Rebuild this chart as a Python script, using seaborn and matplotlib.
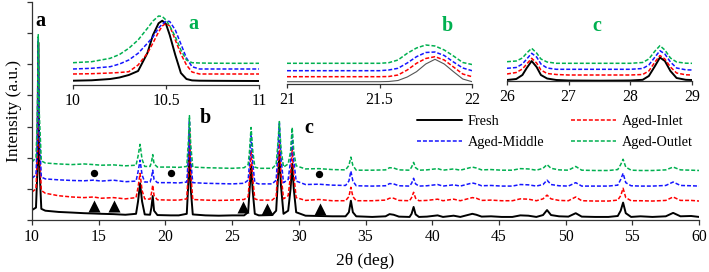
import matplotlib
matplotlib.use("Agg")
import matplotlib.pyplot as plt
import seaborn as sns

# main XRD patterns (2theta in deg, intensity in a.u., already stacked)
two_theta = [10.0, 10.3, 10.4, 10.47, 10.55, 10.7, 11.0, 12.0, 13.0, 13.9,
             14.6, 15.2, 16.1, 17.0, 17.8, 17.95, 18.1, 18.25, 18.45, 18.85,
             18.95, 19.05, 19.15, 19.4, 20.4, 21.0, 21.6, 21.72, 21.8, 21.9,
             22.05, 23.0, 24.0, 25.0, 25.9, 26.2, 26.3, 26.42, 26.55, 26.7,
             27.0, 28.0, 28.3, 28.42, 28.54, 28.66, 28.85, 29.2, 29.38, 29.5,
             29.62, 29.8, 30.5, 31.5, 32.5, 33.5, 33.75, 33.9, 34.05, 34.3,
             35.5, 36.5, 36.8, 37.1, 37.5, 38.3, 38.45, 38.6, 38.75, 39.0,
             39.6, 40.4, 40.8, 41.6, 42.1, 43.0, 43.3, 43.7, 44.4, 45.2,
             46.0, 46.6, 47.2, 47.8, 48.3, 48.6, 48.9, 49.5, 50.2, 50.75,
             51.2, 52.2, 53.2, 53.9, 54.12, 54.3, 54.5, 54.9, 55.6, 56.5,
             57.5, 58.05, 58.6, 59.4, 60.0]
fresh = [0.32, 0.40, 1.50, 5.70, 1.80, 0.36, 0.30, 0.26, 0.24, 0.22,
         0.21, 0.20, 0.19, 0.17, 0.20, 0.60, 1.18, 0.60, 0.18, 0.17,
         0.40, 0.77, 0.30, 0.16, 0.15, 0.15, 0.20, 1.20, 2.40, 1.00,
         0.18, 0.15, 0.14, 0.15, 0.15, 0.25, 0.90, 1.75, 0.90, 0.20,
         0.15, 0.16, 0.30, 1.20, 2.10, 1.10, 0.20, 0.30, 1.00, 1.80,
         1.00, 0.25, 0.14, 0.13, 0.12, 0.12, 0.25, 0.62, 0.25, 0.12,
         0.10, 0.12, 0.19, 0.17, 0.11, 0.10, 0.20, 0.42, 0.18, 0.10,
         0.11, 0.15, 0.10, 0.14, 0.10, 0.20, 0.17, 0.11, 0.12, 0.10,
         0.10, 0.15, 0.14, 0.10, 0.16, 0.32, 0.16, 0.12, 0.11, 0.22,
         0.11, 0.10, 0.10, 0.13, 0.30, 0.56, 0.22, 0.10, 0.12, 0.10,
         0.12, 0.23, 0.12, 0.13, 0.10]
aged_inlet = [0.90, 1.00, 2.00, 5.75, 2.40, 0.95, 0.86, 0.78, 0.74, 0.72,
              0.74, 0.70, 0.72, 0.68, 0.72, 1.05, 1.50, 0.95, 0.68, 0.67,
              0.85, 1.12, 0.78, 0.65, 0.64, 0.64, 0.68, 1.60, 2.90, 1.50,
              0.66, 0.64, 0.63, 0.64, 0.66, 0.75, 1.30, 2.24, 1.30, 0.68,
              0.64, 0.64, 0.75, 1.60, 2.55, 1.50, 0.68, 0.78, 1.45, 2.30,
              1.45, 0.72, 0.63, 0.66, 0.62, 0.62, 0.75, 1.05, 0.75, 0.62,
              0.62, 0.64, 0.70, 0.70, 0.63, 0.62, 0.72, 0.89, 0.70, 0.62,
              0.63, 0.67, 0.62, 0.67, 0.62, 0.72, 0.70, 0.63, 0.64, 0.62,
              0.62, 0.68, 0.67, 0.62, 0.68, 0.80, 0.68, 0.63, 0.62, 0.74,
              0.62, 0.61, 0.61, 0.64, 0.78, 1.02, 0.72, 0.62, 0.62, 0.61,
              0.63, 0.74, 0.63, 0.63, 0.61]
aged_middle = [1.34, 1.45, 2.50, 5.80, 2.80, 1.38, 1.32, 1.29, 1.27, 1.26,
               1.28, 1.25, 1.28, 1.23, 1.25, 1.55, 1.92, 1.45, 1.22, 1.22,
               1.35, 1.60, 1.30, 1.20, 1.20, 1.19, 1.22, 2.00, 3.20, 1.90,
               1.20, 1.18, 1.17, 1.16, 1.18, 1.28, 1.80, 2.78, 1.80, 1.20,
               1.16, 1.16, 1.28, 2.10, 3.10, 2.00, 1.20, 1.30, 1.90, 2.78,
               1.90, 1.25, 1.14, 1.15, 1.12, 1.11, 1.25, 1.57, 1.25, 1.10,
               1.09, 1.10, 1.17, 1.16, 1.10, 1.09, 1.18, 1.34, 1.16, 1.09,
               1.10, 1.14, 1.09, 1.13, 1.09, 1.19, 1.16, 1.10, 1.11, 1.09,
               1.09, 1.14, 1.13, 1.09, 1.14, 1.28, 1.14, 1.10, 1.09, 1.20,
               1.09, 1.09, 1.09, 1.12, 1.30, 1.50, 1.20, 1.10, 1.09, 1.09,
               1.11, 1.22, 1.11, 1.10, 1.09]
aged_outlet = [1.86, 2.00, 3.20, 5.95, 3.40, 1.90, 1.83, 1.80, 1.78, 1.80,
               1.78, 1.76, 1.77, 1.74, 1.76, 2.05, 2.43, 1.95, 1.72, 1.72,
               1.85, 2.10, 1.80, 1.70, 1.70, 1.69, 1.72, 2.50, 3.35, 2.40,
               1.70, 1.68, 1.67, 1.66, 1.68, 1.78, 2.20, 2.97, 2.20, 1.70,
               1.66, 1.66, 1.78, 2.40, 3.16, 2.30, 1.70, 1.80, 2.20, 2.97,
               2.20, 1.74, 1.64, 1.65, 1.62, 1.61, 1.75, 2.02, 1.75, 1.60,
               1.60, 1.61, 1.68, 1.67, 1.61, 1.60, 1.70, 1.85, 1.68, 1.60,
               1.61, 1.65, 1.60, 1.64, 1.60, 1.70, 1.67, 1.61, 1.62, 1.60,
               1.60, 1.65, 1.64, 1.60, 1.66, 1.78, 1.66, 1.61, 1.60, 1.72,
               1.60, 1.59, 1.59, 1.62, 1.78, 1.95, 1.70, 1.60, 1.59, 1.59,
               1.61, 1.70, 1.61, 1.60, 1.59]

# phase markers
circle_x = [14.67, 20.43, 31.5]
circle_y = [1.52, 1.52, 1.47]
triangle_x = [14.67, 16.16, 25.85, 27.65, 31.55]
triangle_y = [0.45, 0.45, 0.41, 0.37, 0.37]

# inset a (peak near 10.5)
ins_a_x = [10.0, 10.1, 10.2, 10.25, 10.3, 10.35, 10.4, 10.43, 10.46, 10.48,
           10.5, 10.52, 10.55, 10.58, 10.61, 10.64, 10.68, 10.75, 10.85, 11.0]
ins_a_fresh = [4.3, 4.7, 6.0, 7.5, 10.0, 14.0, 32.0, 50.0, 61.7, 64.3,
               61.0, 50.0, 30.0, 12.0, 6.0, 4.6, 4.3, 4.2, 4.1, 4.0]
ins_a_inlet = [11.0, 11.3, 12.0, 12.5, 13.3, 20.0, 31.7, 42.0, 53.0, 59.0,
               61.7, 59.0, 45.0, 31.0, 20.0, 13.0, 11.0, 11.0, 11.0, 11.0]
ins_a_middle = [16.0, 16.7, 18.3, 21.0, 25.0, 31.7, 41.7, 48.0, 57.0, 61.0,
                64.0, 63.5, 55.0, 41.0, 27.0, 18.3, 16.0, 16.0, 16.0, 16.0]
ins_a_outlet = [22.3, 23.3, 26.7, 30.5, 36.7, 45.0, 56.7, 64.0, 69.0, 68.5,
                65.0, 59.0, 48.3, 35.0, 25.0, 22.3, 22.0, 21.8, 21.7, 21.7]

# inset b (peak near 21.8)
ins_b_x = [21.0, 21.2, 21.4, 21.5, 21.55, 21.6, 21.65, 21.7, 21.75, 21.8,
           21.85, 21.9, 21.95, 22.0]
ins_b_fresh = [2.3, 2.3, 2.3, 2.3, 2.5, 3.5, 7.0, 12.3, 20.0, 24.7,
               20.0, 12.3, 5.0, 2.3]
ins_b_inlet = [7.3, 7.3, 7.3, 7.3, 7.5, 9.0, 14.0, 20.7, 25.5, 27.3,
               24.0, 17.0, 10.0, 7.3]
ins_b_middle = [13.3, 13.3, 13.3, 13.3, 14.0, 15.7, 21.0, 27.3, 31.5, 32.0,
                28.5, 22.0, 16.0, 13.3]
ins_b_outlet = [20.7, 20.7, 20.7, 20.7, 21.3, 24.0, 30.7, 36.0, 39.0, 38.0,
                34.0, 28.0, 21.5, 19.5]

# inset c (peaks near 26.4 and 28.5)
ins_c_x = [26.0, 26.15, 26.25, 26.32, 26.4, 26.48, 26.55, 26.65, 26.8, 27.0,
           27.5, 28.0, 28.2, 28.3, 28.4, 28.48, 28.56, 28.65, 28.75, 28.9, 29.0]
ins_c_fresh = [1.0, 2.0, 6.0, 13.0, 20.0, 14.0, 6.0, 2.5, 1.0, 0.5,
               0.3, 0.5, 1.2, 5.0, 15.0, 23.5, 20.0, 10.0, 3.0, 1.2, 1.0]
ins_c_inlet = [7.0, 8.5, 12.0, 17.0, 22.7, 18.0, 11.0, 7.5, 6.5, 6.0,
               6.0, 6.0, 6.5, 10.0, 19.0, 25.5, 22.0, 14.0, 8.0, 6.2, 6.0]
ins_c_middle = [12.7, 13.5, 17.0, 22.0, 27.7, 24.0, 17.0, 13.0, 11.7, 11.7,
                11.7, 11.7, 12.5, 16.0, 24.0, 30.3, 27.0, 19.0, 13.0, 11.2, 11.0]
ins_c_outlet = [19.3, 20.0, 23.0, 28.0, 32.7, 28.0, 22.0, 19.0, 17.7, 17.7,
                17.7, 17.7, 18.5, 22.0, 30.0, 35.3, 31.0, 23.0, 19.0, 17.8, 17.7]

labels = ["Fresh", "Aged-Inlet", "Aged-Middle", "Aged-Outlet"]
colors = ["black", "#ff0000", "#1515ff", "#00b050"]

sns.set_style("ticks")
plt.rcParams["font.family"] = ["Liberation Serif", "DejaVu Serif"]
plt.rcParams["text.color"] = "black"
plt.rcParams["axes.labelcolor"] = "black"

fig = plt.figure(figsize=(7.09, 2.72), dpi=100)
ax = fig.add_axes([0.0451, 0.191, 0.941, 0.802])

dash = (0, (2.6, 1.3))
main_y = [fresh, aged_inlet, aged_middle, aged_outlet]
for i, yy in enumerate(main_y):
    if i == 0:
        sns.lineplot(x=two_theta, y=yy, ax=ax, color=colors[i], lw=1.4, label=labels[i])
    else:
        sns.lineplot(x=two_theta, y=yy, ax=ax, color=colors[i], lw=1.1,
                     linestyle=dash, label=labels[i])

sns.scatterplot(x=circle_x, y=circle_y, ax=ax, color="black", marker="o", s=28,
                edgecolor="black", linewidth=0, zorder=5)
sns.scatterplot(x=triangle_x, y=triangle_y, ax=ax, color="black", marker="^", s=75,
                edgecolor="black", linewidth=0, zorder=5)

ax.set_xlim(10, 60)
ax.set_ylim(0, 7)
ax.set_xticks(range(10, 61, 5))
ax.set_yticks(range(0, 8))
ax.set_yticklabels([])
ax.tick_params(labelsize=11.3, length=3.5, width=0.9, colors="#333333", pad=3)
for lab in ax.get_xticklabels():
    lab.set_color("black")
ax.set_xlabel("2θ (deg)", fontsize=12.5, labelpad=6)
ax.set_ylabel("Intensity (a.u.)", fontsize=12.5, labelpad=1)
sns.despine(ax=ax)
for sp in ["left", "bottom"]:
    ax.spines[sp].set_linewidth(0.9)
    ax.spines[sp].set_color("#333333")

ax.text(10.6, 6.39, "a", fontsize=14.5, fontweight="bold", ha="center", va="center")
ax.text(22.99, 3.26, "b", fontsize=14.5, fontweight="bold", ha="center", va="center")
ax.text(30.74, 2.94, "c", fontsize=14.5, fontweight="bold", ha="center", va="center")

h, l = ax.get_legend_handles_labels()
order = [0, 2, 1, 3]
ax.legend([h[k] for k in order], [l[k] for k in order], ncol=2, frameon=False,
          fontsize=10.3, handlelength=3.15, handletextpad=0.42, columnspacing=1.85,
          labelspacing=0.55, borderpad=0, borderaxespad=0,
          loc="upper left", bbox_to_anchor=(417 / 709, 1 - 115 / 272),
          bbox_transform=fig.transFigure)


def draw_inset(rect, xs, ys, xlim, ticks, ticklabels, tag, tag_xy, thin_black=False):
    a = fig.add_axes(rect)
    a.patch.set_alpha(0)
    for i, yy in enumerate(ys):
        if i == 0:
            if thin_black:
                sns.lineplot(x=xs, y=yy, ax=a, color="#555555", lw=0.8)
            else:
                sns.lineplot(x=xs, y=yy, ax=a, color="black", lw=1.4)
        else:
            sns.lineplot(x=xs, y=yy, ax=a, color=colors[i], lw=1.1, linestyle=dash)
    a.set_xlim(*xlim)
    a.set_ylim(0, 75)
    a.set_xticks(ticks)
    a.set_xticklabels(ticklabels)
    a.set_yticks([])
    a.tick_params(labelsize=11.3, length=3, width=0.9, colors="#333333", pad=3)
    for lab in a.get_xticklabels():
        lab.set_color("black")
    for sp in ["left", "right", "top"]:
        a.spines[sp].set_visible(False)
    a.spines["bottom"].set_linewidth(0.9)
    a.spines["bottom"].set_color("#333333")
    fig.text(tag_xy[0] / 709, 1 - tag_xy[1] / 272, tag, color="#00b050", fontsize=14.5,
             fontweight="bold", ha="center", va="center")
    return a


draw_inset([73 / 709, 1 - 85 / 272, 186 / 709, 75 / 272], ins_a_x,
           [ins_a_fresh, ins_a_inlet, ins_a_middle, ins_a_outlet],
           (10, 11), [10, 10.5, 11], ["10", "10.5", "11"], "a", (193, 24))
draw_inset([287 / 709, 1 - 84 / 272, 185 / 709, 75 / 272], ins_b_x,
           [ins_b_fresh, ins_b_inlet, ins_b_middle, ins_b_outlet],
           (21, 22), [21, 21.5, 22], ["21", "21.5", "22"], "b", (447, 26), thin_black=True)
draw_inset([507 / 709, 1 - 81 / 272, 185 / 709, 75 / 272], ins_c_x,
           [ins_c_fresh, ins_c_inlet, ins_c_middle, ins_c_outlet],
           (26, 29), [26, 27, 28, 29], ["26", "27", "28", "29"], "c", (597, 26))

fig.savefig("out.png", dpi=100)
